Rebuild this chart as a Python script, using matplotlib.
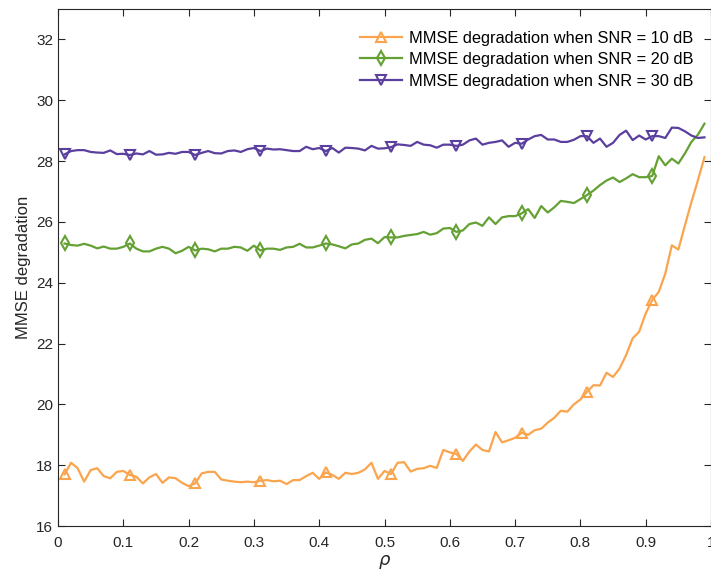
import numpy as np
import matplotlib
matplotlib.use("Agg")
import matplotlib.pyplot as plt

plt.rcParams['font.family'] = ['Liberation Sans', 'DejaVu Sans']

# correlation coefficient grid
rho = np.round(np.arange(1, 100) / 100.0, 2)

mmse_10db = [
    17.70, 18.08, 17.90, 17.46, 17.84, 17.90, 17.64, 17.57, 17.78, 17.81,
    17.68, 17.62, 17.40, 17.60, 17.71, 17.42, 17.60, 17.57, 17.42, 17.31,
    17.40, 17.73, 17.78, 17.78, 17.53, 17.49, 17.46, 17.44, 17.46, 17.44,
    17.49, 17.51, 17.47, 17.49, 17.38, 17.51, 17.51, 17.64, 17.75, 17.55,
    17.76, 17.68, 17.55, 17.75, 17.71, 17.75, 17.86, 18.08, 17.55, 17.81,
    17.71, 18.08, 18.10, 17.79, 17.88, 17.90, 17.98, 17.91, 18.50, 18.42,
    18.37, 18.14, 18.45, 18.68, 18.50, 18.45, 19.09, 18.75, 18.82, 18.90,
    19.07, 19.00, 19.15, 19.20, 19.40, 19.56, 19.79, 19.76, 20.00, 20.16,
    20.41, 20.63, 20.62, 21.04, 20.90, 21.18, 21.62, 22.17, 22.39, 22.99,
    23.43, 23.70, 24.30, 25.23, 25.09, 25.88, 26.65, 27.37, 28.13,
]

mmse_20db = [
    25.29, 25.24, 25.22, 25.28, 25.22, 25.13, 25.19, 25.12, 25.12, 25.18,
    25.29, 25.12, 25.03, 25.03, 25.12, 25.18, 25.12, 24.97, 25.05, 25.18,
    25.06, 25.12, 25.10, 25.03, 25.12, 25.12, 25.18, 25.16, 25.05, 25.22,
    25.06, 25.12, 25.12, 25.08, 25.16, 25.18, 25.28, 25.16, 25.16, 25.22,
    25.29, 25.26, 25.20, 25.13, 25.26, 25.29, 25.41, 25.45, 25.30, 25.50,
    25.49, 25.49, 25.54, 25.57, 25.60, 25.67, 25.58, 25.63, 25.78, 25.80,
    25.67, 25.72, 25.93, 25.98, 25.87, 26.15, 25.93, 26.15, 26.19, 26.19,
    26.28, 26.42, 26.13, 26.52, 26.31, 26.48, 26.69, 26.66, 26.62, 26.75,
    26.88, 27.03, 27.21, 27.36, 27.46, 27.31, 27.43, 27.57, 27.47, 27.47,
    27.51, 28.16, 27.86, 28.08, 27.92, 28.25, 28.63, 28.87, 29.23,
]

mmse_30db = [
    28.22, 28.33, 28.36, 28.36, 28.30, 28.28, 28.27, 28.35, 28.23, 28.24,
    28.20, 28.25, 28.22, 28.33, 28.21, 28.22, 28.27, 28.24, 28.30, 28.30,
    28.20, 28.27, 28.33, 28.26, 28.25, 28.33, 28.35, 28.30, 28.39, 28.43,
    28.33, 28.41, 28.38, 28.39, 28.36, 28.33, 28.33, 28.47, 28.39, 28.43,
    28.33, 28.43, 28.28, 28.44, 28.43, 28.41, 28.35, 28.50, 28.41, 28.42,
    28.46, 28.55, 28.53, 28.50, 28.63, 28.54, 28.52, 28.44, 28.54, 28.54,
    28.50, 28.54, 28.68, 28.74, 28.54, 28.60, 28.63, 28.68, 28.47, 28.60,
    28.57, 28.71, 28.82, 28.86, 28.71, 28.71, 28.63, 28.63, 28.70, 28.82,
    28.82, 28.60, 28.74, 28.47, 28.60, 28.86, 29.00, 28.69, 28.84, 28.71,
    28.82, 28.82, 28.76, 29.10, 29.09, 28.98, 28.84, 28.76, 28.78,
]

series = [
    (mmse_10db, '#FAA54D', '^', 'MMSE degradation when SNR = 10 dB'),
    (mmse_20db, '#64A033', 'd', 'MMSE degradation when SNR = 20 dB'),
    (mmse_30db, '#5B3F9E', 'v', 'MMSE degradation when SNR = 30 dB'),
]

fig = plt.figure(figsize=(7.11, 5.75), dpi=100)
ax = fig.add_axes([0.0816, 0.0852, 0.9184, 0.8991])

for vals, color, marker, label in series:
    ax.plot(rho, vals, color=color, lw=1.6, marker=marker, markevery=10,
            markersize=7.5, fillstyle='none', markeredgewidth=1.5, label=label)

ax.set_xlim(0, 1)
ax.set_ylim(16, 33)
ax.set_xticks(np.arange(0, 1.01, 0.1))
ax.set_xticklabels(['0', '0.1', '0.2', '0.3', '0.4', '0.5', '0.6', '0.7', '0.8', '0.9', '1'])
ax.set_yticks(range(16, 33, 2))

ax.tick_params(direction='in', length=5, width=0.8, colors='#262626',
               labelsize=11, top=True, right=True)
ax.tick_params(axis='x', pad=7)
for s in ax.spines.values():
    s.set_color('#262626')
    s.set_linewidth(0.8)

ax.set_xlabel(r'$\rho$', fontsize=13, color='#262626', labelpad=2)
ax.set_ylabel('MMSE degradation', fontsize=12, color='#262626')

leg = ax.legend(loc='upper right', bbox_to_anchor=(0.983, 0.971),
                borderaxespad=0, frameon=False, fontsize=11.8,
                handlelength=2.6, labelspacing=0.4, handletextpad=0.4)

fig.savefig('out.png', dpi=100)
